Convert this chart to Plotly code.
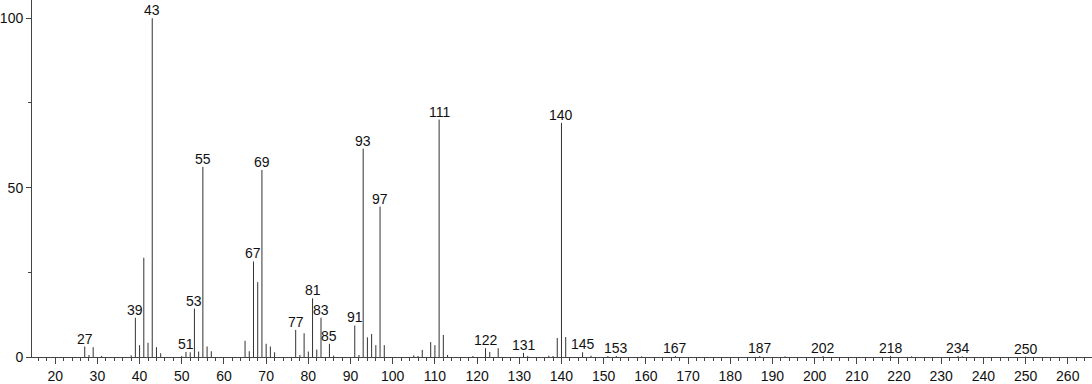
import plotly.graph_objects as go

mz = [27, 28, 29, 31, 38, 39, 40, 41, 42, 43, 44, 45, 50, 51, 52, 53, 54, 55, 56, 57,
      65, 66, 67, 68, 69, 70, 71, 72, 77, 78, 79, 80, 81, 82, 83, 85, 86,
      91, 92, 93, 94, 95, 96, 97, 98, 105, 106, 107, 109, 110, 111, 112, 113, 119,
      122, 123, 125, 131, 132, 137, 138, 139, 140, 141, 145, 147, 151, 153, 159,
      167, 187, 193, 202, 218, 223, 234, 235, 250]
intensity = [3.1, 0.6, 2.9, 0.3, 0.5, 11.6, 3.5, 29.3, 4.2, 100.0, 2.9, 1.1, 0.3, 1.5, 1.4, 14.3, 1.6, 56.1, 3.1, 1.7,
             4.8, 1.7, 28.2, 22.1, 55.2, 3.9, 3.1, 1.4, 8.0, 0.6, 7.0, 1.6, 17.3, 2.2, 11.6, 3.9, 0.4,
             9.3, 0.6, 61.5, 5.8, 6.8, 3.5, 44.4, 3.5, 0.5, 0.3, 2.1, 4.4, 3.5, 70.1, 6.5, 0.6, 0.3,
             2.6, 1.5, 2.6, 1.2, 0.3, 0.4, 0.3, 5.6, 69.1, 5.9, 1.4, 0.4, 0.3, 0.3, 0.2,
             0.3, 0.3, 0.2, 0.3, 0.3, 0.2, 0.3, 0.2, 0.1]
labeled = [27, 39, 43, 51, 53, 55, 67, 69, 77, 81, 83, 85, 91, 93, 97, 111, 122, 131,
           140, 145, 153, 167, 187, 202, 218, 234, 250]

xs, ys = [], []
for m, v in zip(mz, intensity):
    xs += [m, m, None]
    ys += [0, v, None]

fig = go.Figure()
fig.add_trace(go.Scatter(x=xs, y=ys, mode="lines", line=dict(color="#333333", width=1),
                         hoverinfo="skip", showlegend=False))

lookup = dict(zip(mz, intensity))
for m in labeled:
    fig.add_annotation(x=m, y=lookup[m], text=str(m), showarrow=False,
                       yanchor="bottom", xanchor="center", yshift=-2,
                       font=dict(family="Liberation Sans, Arial", size=14, color="#111"))

axis_font = dict(family="Liberation Sans, Arial", size=14, color="#111")
fig.update_layout(
    width=1092, height=384,
    margin=dict(l=30, r=0, t=0, b=25),
    paper_bgcolor="white", plot_bgcolor="white",
    font=axis_font,
    xaxis=dict(range=[14.5, 265.75], tickmode="array", tickvals=list(range(20, 261, 10)),
               ticks="outside", ticklen=6, tickcolor="#444", tickwidth=1,
               minor=dict(dtick=2, tick0=0, ticks="outside", ticklen=3, tickcolor="#444"),
               showline=True, linecolor="#444", linewidth=1, showgrid=False, zeroline=False,
               tickfont=axis_font),
    yaxis=dict(range=[0, 105.37], tickvals=[0, 50, 100],
               ticks="outside", ticklen=5, tickcolor="#444", tickwidth=1,
               minor=dict(dtick=25, tick0=0, ticks="outside", ticklen=3, tickcolor="#444"),
               showline=True, linecolor="#444", linewidth=1, showgrid=False, zeroline=False,
               tickfont=axis_font),
)
fig.write_html("out.html")
